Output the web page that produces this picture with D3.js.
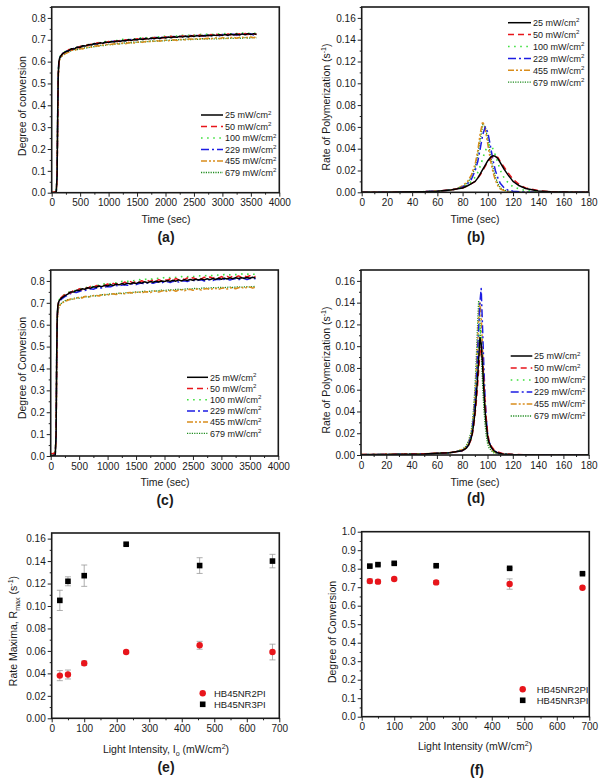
<!DOCTYPE html>
<html><head><meta charset="utf-8">
<script src="https://cdn.jsdelivr.net/npm/d3@7"></script>
<style>body{margin:0;background:#fff}svg{display:block}text{font-family:Arial,"Liberation Sans",sans-serif}</style>
</head><body><svg id="c" width="604" height="781"></svg>
<script>
// ---------------- DATA ----------------
const intensities = [25, 50, 100, 229, 455, 679];
const seriesLabels = ["25 mW/cm", "50 mW/cm", "100 mW/cm", "229 mW/cm", "455 mW/cm", "679 mW/cm"];

// time (sec) for conversion curves (a) and (c)
const timeConv = [0,40,80,95,105,115,125,135,150,175,200,250,
 300,350,400,450,500,550,600,650,700,750,800,850,900,950,1000,1050,1100,1150,1200,1250,
 1300,1350,1400,1450,1500,1550,1600,1650,1700,1750,1800,1850,1900,1950,2000,2050,2100,2150,2200,2250,
 2300,2350,2400,2450,2500,2550,2600,2650,2700,2750,2800,2850,2900,2950,3000,3050,3100,3150,3200,3250,
 3300,3350,3400,3450,3500,3550,3600];

// (a) degree of conversion, HB45NR2PI
const convA_25 = [0,0,0.003,0.08,0.35,0.54,0.595,0.612,0.622,0.632,0.638,0.646,
 .650,.659,.658,.667,.665,.673,.672,.678,.676,.683,.680,.686,.684,.690,.687,.692,.690,.695,.692,.697,
 .695,.700,.697,.702,.699,.704,.701,.706,.703,.708,.705,.709,.706,.711,.708,.713,.709,.714,.711,.716,
 .712,.717,.713,.718,.715,.719,.716,.720,.717,.721,.718,.722,.719,.723,.720,.724,.721,.725,.722,.726,
 .722,.727,.723,.728,.724,.728,.724];
const convA_50 = [0,0.002,0.004,0.07,0.33,0.53,0.59,0.61,0.62,0.63,0.637,0.647,
 .655,.654,.663,.662,.670,.668,.676,.674,.681,.679,.686,.683,.689,.686,.692,.689,.695,.691,.697,.694,
 .700,.696,.703,.699,.705,.701,.707,.703,.709,.705,.711,.707,.712,.708,.714,.710,.716,.711,.717,.713,
 .718,.714,.720,.715,.721,.716,.722,.717,.723,.718,.724,.719,.725,.720,.726,.721,.727,.722,.728,.723,
 .728,.723,.729,.724,.729,.725,.727];
const convA_100 = [0,0,0.002,0.09,0.37,0.55,0.60,0.615,0.625,0.634,0.640,0.648,
 .653,.660,.662,.664,.671,.670,.673,.680,.679,.681,.688,.686,.687,.693,.691,.692,.698,.696,.697,.702,
 .700,.701,.706,.704,.705,.709,.707,.708,.712,.710,.711,.714,.712,.713,.717,.715,.716,.719,.717,.718,
 .721,.719,.720,.723,.721,.722,.725,.723,.724,.727,.724,.725,.728,.726,.726,.729,.727,.727,.730,.728,
 .728,.731,.729,.729,.732,.730,.729];
const convA_229 = [0.002,0,0.003,0.08,0.36,0.545,0.598,0.613,0.623,0.633,0.639,0.646,
 .651,.656,.662,.663,.668,.673,.672,.677,.680,.679,.684,.687,.685,.690,.689,.691,.694,.692,.696,.697,
 .696,.700,.701,.699,.704,.705,.702,.707,.708,.705,.710,.710,.707,.712,.713,.709,.714,.715,.711,.716,
 .717,.713,.718,.719,.714,.720,.720,.716,.721,.722,.717,.723,.723,.718,.724,.724,.719,.725,.725,.720,
 .726,.726,.721,.727,.727,.722,.725];
const convA_455 = [0.005,0.003,0.004,0.07,0.32,0.52,0.585,0.605,0.615,0.625,0.630,0.638,
 .644,.652,.651,.657,.660,.658,.665,.667,.666,.671,.673,.671,.676,.678,.676,.680,.682,.679,.683,.685,
 .682,.686,.688,.685,.689,.691,.688,.692,.693,.690,.694,.696,.693,.697,.698,.695,.699,.700,.697,.701,
 .702,.699,.703,.704,.701,.705,.706,.702,.706,.707,.704,.708,.709,.705,.709,.710,.706,.710,.711,.707,
 .711,.712,.708,.712,.713,.709,.713];
const convA_679 = [0.003,0.001,0.002,0.08,0.34,0.53,0.588,0.606,0.616,0.624,0.629,0.637,
 .647,.650,.655,.655,.658,.663,.662,.664,.669,.668,.670,.674,.673,.675,.679,.677,.679,.683,.681,.683,
 .687,.685,.686,.690,.688,.689,.693,.691,.692,.695,.693,.694,.697,.695,.696,.699,.697,.698,.701,.699,
 .700,.703,.701,.701,.704,.702,.702,.705,.703,.703,.706,.704,.704,.707,.705,.705,.708,.706,.706,.709,
 .707,.707,.710,.708,.708,.711,.709];

// (c) degree of conversion, HB45NR3PI
const convC_25 = [0.002,0.001,0.004,0.10,0.45,0.64,0.685,0.70,0.71,0.718,0.724,0.733,
 .740,.750,.749,.757,.756,.764,.762,.769,.767,.773,.771,.777,.774,.780,.777,.783,.779,.786,.782,.788,
 .784,.790,.786,.792,.788,.794,.790,.796,.792,.797,.794,.799,.795,.800,.797,.802,.798,.803,.799,.805,
 .800,.806,.802,.807,.803,.808,.804,.809,.805,.810,.806,.811,.807,.812,.808,.813,.809,.814,.810,.815,
 .811,.815,.812,.816,.812,.817,.813];
const convC_50 = [0.012,0.010,0.014,0.09,0.42,0.63,0.68,0.698,0.712,0.722,0.728,0.738,
 .748,.745,.757,.754,.764,.760,.770,.766,.775,.771,.779,.775,.783,.778,.786,.781,.789,.784,.792,.787,
 .795,.789,.797,.791,.799,.793,.801,.795,.803,.797,.805,.799,.806,.800,.808,.802,.810,.803,.811,.805,
 .812,.806,.814,.807,.815,.808,.816,.809,.817,.811,.818,.812,.819,.813,.820,.814,.821,.815,.822,.816,
 .823,.817,.823,.818,.824,.818,.820];
const convC_100 = [0.008,0.006,0.010,0.11,0.46,0.645,0.688,0.703,0.714,0.723,0.730,0.739,
 .745,.753,.755,.757,.764,.765,.767,.773,.773,.775,.781,.780,.782,.787,.786,.788,.793,.791,.793,.798,
 .796,.798,.802,.801,.802,.806,.804,.806,.810,.808,.809,.813,.811,.812,.816,.814,.815,.818,.816,.817,
 .820,.818,.819,.822,.820,.821,.824,.822,.823,.826,.824,.825,.828,.826,.826,.829,.827,.828,.831,.829,
 .829,.832,.830,.830,.833,.831,.830];
const convC_229 = [0.003,0.002,0.005,0.10,0.44,0.635,0.682,0.695,0.705,0.713,0.719,0.728,
 .735,.742,.748,.747,.752,.757,.756,.761,.764,.762,.767,.770,.768,.772,.775,.773,.777,.779,.776,.781,
 .783,.780,.785,.787,.783,.788,.790,.786,.791,.792,.789,.794,.795,.791,.796,.797,.793,.798,.799,.795,
 .800,.801,.797,.802,.803,.799,.804,.805,.800,.805,.806,.802,.807,.808,.803,.808,.809,.804,.809,.810,
 .805,.810,.811,.806,.811,.812,.810];
const convC_455 = [0.010,0.012,0.015,0.08,0.40,0.61,0.655,0.672,0.684,0.693,0.699,0.706,
 .712,.718,.716,.723,.724,.722,.729,.730,.727,.733,.734,.731,.737,.738,.735,.740,.741,.738,.743,.744,
 .741,.746,.747,.743,.748,.749,.745,.750,.751,.747,.752,.754,.749,.754,.756,.751,.756,.758,.753,.758,
 .760,.755,.760,.762,.757,.762,.763,.758,.763,.765,.760,.765,.766,.761,.766,.768,.763,.768,.769,.764,
 .769,.771,.766,.771,.772,.767,.772];
const convC_679 = [0.006,0.005,0.008,0.09,0.41,0.615,0.66,0.675,0.686,0.695,0.701,0.709,
 .715,.714,.720,.722,.721,.726,.728,.726,.731,.733,.731,.735,.737,.735,.739,.741,.739,.742,.744,.742,
 .745,.747,.745,.748,.750,.748,.751,.753,.751,.754,.755,.753,.756,.758,.756,.758,.760,.758,.761,.762,
 .760,.763,.764,.762,.765,.766,.764,.767,.768,.766,.768,.770,.768,.770,.771,.769,.771,.772,.770,.772,
 .773,.771,.773,.774,.772,.774,.775];

// (b) rate of polymerization, HB45NR2PI
const timeRateB = [0,10,20,30,40,50,60,70,75,80,84,87,90,92,94,96,98,100,102,104,106,108,110,113,116,120,125,130,140,150,160,170,180];
const rateB_25 = [0,0,0,0.0002,0.0004,0.0006,0.001,0.002,0.003,0.004,0.006,0.008,0.010,0.013,0.017,0.021,0.025,0.029,0.032,0.0335,0.033,0.031,0.027,0.021,0.016,0.010,0.006,0.0035,0.0012,0.0005,0.0002,0.0001,0];
const rateB_50 = [0,0,0,0.0002,0.0004,0.0006,0.001,0.002,0.003,0.004,0.006,0.008,0.010,0.013,0.016,0.020,0.024,0.028,0.031,0.033,0.033,0.032,0.028,0.023,0.018,0.012,0.007,0.004,0.0015,0.0006,0.0002,0.0001,0];
const rateB_100 = [0,0,0,0.0002,0.0004,0.0006,0.001,0.002,0.003,0.005,0.007,0.010,0.014,0.018,0.024,0.031,0.038,0.043,0.044,0.040,0.034,0.027,0.020,0.013,0.009,0.005,0.003,0.0015,0.0006,0.0003,0.0001,0,0];
const rateB_229 = [0,0,0,0.0002,0.0004,0.0006,0.001,0.002,0.003,0.005,0.008,0.012,0.020,0.028,0.040,0.053,0.060,0.055,0.043,0.030,0.020,0.013,0.008,0.004,0.002,0.001,0.0005,0.0002,0.0001,0,0,0,0];
const rateB_455 = [0,0,0,0.0002,0.0004,0.0006,0.001,0.002,0.003,0.006,0.010,0.016,0.026,0.038,0.054,0.065,0.058,0.044,0.030,0.019,0.011,0.006,0.003,0.0015,0.0007,0.0003,0.0001,0,0,0,0,0,0];
const rateB_679 = [0,0,0,0.0002,0.0004,0.0006,0.001,0.002,0.003,0.005,0.009,0.014,0.023,0.034,0.048,0.062,0.060,0.049,0.035,0.023,0.014,0.008,0.004,0.002,0.001,0.0004,0.0001,0,0,0,0,0,0];

// (d) rate of polymerization, HB45NR3PI
const timeRateD = [0,10,20,30,40,50,60,70,75,80,83,85,87,88,89,90,91,92,93,94,95,96,97,98,99,100,101,103,105,108,112,120,130,140,160,180];
const rateD_25 = [0.0003,0.0004,0.0005,0.0006,0.0008,0.001,0.0015,0.002,0.003,0.004,0.006,0.009,0.015,0.020,0.028,0.038,0.052,0.068,0.088,0.108,0.102,0.085,0.062,0.042,0.028,0.018,0.012,0.007,0.004,0.002,0.001,0.0004,0.0002,0.0001,0,0];
const rateD_50 = [0.0004,0.0005,0.0006,0.0007,0.0009,0.0011,0.0016,0.0022,0.003,0.004,0.006,0.009,0.014,0.019,0.026,0.035,0.047,0.061,0.078,0.093,0.100,0.090,0.070,0.050,0.034,0.022,0.014,0.008,0.005,0.003,0.0013,0.0005,0.0002,0.0001,0,0];
const rateD_100 = [0.0003,0.0004,0.0005,0.0006,0.0008,0.001,0.0015,0.002,0.003,0.004,0.006,0.010,0.016,0.022,0.031,0.042,0.058,0.076,0.098,0.120,0.108,0.088,0.064,0.043,0.028,0.017,0.011,0.006,0.003,0.0015,0.0007,0.0003,0.0001,0,0,0];
const rateD_229 = [0.0003,0.0004,0.0005,0.0006,0.0008,0.001,0.0015,0.002,0.003,0.004,0.006,0.010,0.017,0.024,0.034,0.047,0.065,0.088,0.115,0.140,0.153,0.120,0.085,0.055,0.034,0.021,0.013,0.007,0.004,0.002,0.001,0.0004,0.0002,0.0001,0,0];
const rateD_455 = [0.0004,0.0005,0.0006,0.0007,0.0009,0.0011,0.0016,0.0022,0.003,0.005,0.007,0.011,0.018,0.026,0.037,0.052,0.072,0.098,0.125,0.140,0.128,0.100,0.070,0.045,0.029,0.018,0.011,0.006,0.003,0.0015,0.0007,0.0003,0.0001,0,0,0];
const rateD_679 = [0.0003,0.0004,0.0005,0.0006,0.0008,0.001,0.0015,0.002,0.003,0.005,0.008,0.013,0.021,0.030,0.043,0.060,0.085,0.115,0.142,0.125,0.095,0.068,0.045,0.029,0.018,0.011,0.007,0.004,0.002,0.001,0.0005,0.0002,0.0001,0,0,0];

// (e) rate maxima vs light intensity
const rmax2PI = [0.038, 0.039, 0.049, 0.059, 0.065, 0.059];
const rmax2PIerr = [0.0045, 0.004, 0.002, 0.001, 0.0035, 0.007];
const rmax3PI = [0.105, 0.122, 0.127, 0.155, 0.136, 0.140];
const rmax3PIerr = [0.009, 0.004, 0.0095, 0.001, 0.007, 0.006];

// (f) final degree of conversion vs light intensity
const doc2PI = [0.733, 0.730, 0.744, 0.726, 0.717, 0.697];
const doc2PIerr = [0.012, 0.010, 0.005, 0.010, 0.028, 0.005];
const doc3PI = [0.814, 0.822, 0.829, 0.816, 0.802, 0.773];
const doc3PIerr = [0.005, 0.004, 0.005, 0.004, 0.004, 0.004];

// tick labels
const ticksTime4000 = [0,500,1000,1500,2000,2500,3000,3500,4000];
const ticksTime180 = [0,20,40,60,80,100,120,140,160,180];
const ticksConv = [0,0.1,0.2,0.3,0.4,0.5,0.6,0.7,0.8];
const ticksRate = [0,0.02,0.04,0.06,0.08,0.10,0.12,0.14,0.16];
const ticksIntensity = [0,100,200,300,400,500,600,700];
const ticksConvF = [0,0.1,0.2,0.3,0.4,0.5,0.6,0.7,0.8,0.9,1.0];

const legendNames = ["HB45NR2PI", "HB45NR3PI"];

// ---------------- STYLE ----------------
const lineStyles = [
  {color:"#000000", dash:null, w:1.5},
  {color:"#e8151b", dash:"6,4", w:1.5},
  {color:"#3fe03f", dash:"1.6,4.5", w:1.6},
  {color:"#1d1de3", dash:"8,3,2,3", w:1.5},
  {color:"#d98d1c", dash:"6,2,2,2,2,2", w:1.5},
  {color:"#1e8c1e", dash:"1.2,1.2", w:1.3}
];
const FONT = 'Arial, "Liberation Sans", sans-serif';
const svg = d3.select("#c");

function richText(g, x, y, parts, size, opts = {}) {
  const t = g.append("text").attr("font-size", size).attr("fill", "#1a1a1a")
    .attr("text-anchor", opts.anchor || "start");
  if (opts.rotate) t.attr("transform", `translate(${x},${y}) rotate(-90)`);
  else t.attr("x", x).attr("y", y);
  if (opts.bold) t.attr("font-weight", "bold");
  let shift = 0;
  parts.forEach(p => {
    const s = t.append("tspan").text(p.t);
    let target = 0;
    if (p.sup) { s.attr("font-size", size * 0.68); target = -size * 0.42; }
    else if (p.sub) { s.attr("font-size", size * 0.68); target = size * 0.28; }
    const dy = target - shift;
    if (dy !== 0) s.attr("dy", dy);
    shift = target;
  });
  return t;
}

let clipId = 0;
function panel(cfg) {
  const g = svg.append("g");
  const x = d3.scaleLinear().domain(cfg.xDomain).range([cfg.l, cfg.r]);
  const y = d3.scaleLinear().domain(cfg.yDomain).range([cfg.b, cfg.t]);

  // axes
  const fx = cfg.xFmt || d3.format("d");
  const xa = g.append("g").attr("transform", `translate(0,${cfg.b})`)
    .call(d3.axisBottom(x).tickValues(cfg.xTicks).tickSize(4).tickPadding(2.5).tickFormat(fx));
  g.append("g").attr("transform", `translate(0,${cfg.b})`)
    .call(d3.axisBottom(x).tickValues(cfg.xMinor).tickSize(2).tickFormat(""));
  const ya = g.append("g").attr("transform", `translate(${cfg.l},0)`)
    .call(d3.axisLeft(y).tickValues(cfg.yTicks).tickSize(4).tickPadding(2).tickFormat(cfg.yFmt));
  g.append("g").attr("transform", `translate(${cfg.l},0)`)
    .call(d3.axisLeft(y).tickValues(cfg.yMinor).tickSize(2).tickFormat(""));
  g.selectAll(".domain").remove();
  g.selectAll(".tick line").attr("stroke", "#222").attr("stroke-width", 1);
  g.selectAll(".tick text").attr("font-size", 10).attr("font-family", FONT).attr("fill", "#1a1a1a");

  // clip
  const id = "clip" + (clipId++);
  svg.append("clipPath").attr("id", id).append("rect")
    .attr("x", cfg.l).attr("y", cfg.t).attr("width", cfg.r - cfg.l).attr("height", cfg.b - cfg.t);
  const plot = g.append("g").attr("clip-path", `url(#${id})`);

  if (cfg.lines) {
    const line = d3.line().x(d => x(d[0])).y(d => y(d[1]));
    // draw in reverse so black is on top
    cfg.lines.map((vals, i) => ({vals, i})).reverse().forEach(({vals, i}) => {
      const pts = vals.map((v, k) => [cfg.time[k], v]).filter(p => p[0] !== undefined);
      const st = lineStyles[i];
      plot.append("path").attr("d", line(pts)).attr("fill", "none")
        .attr("stroke", st.color).attr("stroke-width", st.w)
        .attr("stroke-dasharray", st.dash).attr("stroke-linejoin", "round");
    });
    // legend
    const L = cfg.legend;
    seriesLabels.forEach((name, i) => {
      const st = lineStyles[i];
      const yy = L.y0 + i * L.dy;
      g.append("line").attr("x1", L.x1).attr("x2", L.x2).attr("y1", yy).attr("y2", yy)
        .attr("stroke", st.color).attr("stroke-width", st.w).attr("stroke-dasharray", st.dash);
      richText(g, L.tx, yy + 3.3, [{t:name},{t:"2",sup:true}], 9);
    });
  }

  if (cfg.scatter) {
    const S = cfg.scatter;
    const groups = [
      {v:S.red, e:S.redErr, shape:"circle", color:"#e8151b"},
      {v:S.black, e:S.blackErr, shape:"square", color:"#000"}
    ];
    groups.forEach(gr => {
      intensities.forEach((xi, k) => {
        const cx = x(xi), v = gr.v[k], e = gr.e[k];
        const y1 = y(v - e), y2 = y(v + e);
        g.append("line").attr("x1", cx).attr("x2", cx).attr("y1", y1).attr("y2", y2)
          .attr("stroke", "#999").attr("stroke-width", 0.8);
        [y1, y2].forEach(yy => g.append("line").attr("x1", cx - 3).attr("x2", cx + 3)
          .attr("y1", yy).attr("y2", yy).attr("stroke", "#999").attr("stroke-width", 0.8));
      });
    });
    groups.forEach(gr => {
      intensities.forEach((xi, k) => {
        const cx = x(xi), cy = y(gr.v[k]);
        if (gr.shape === "circle") g.append("circle").attr("cx", cx).attr("cy", cy).attr("r", 3.2).attr("fill", gr.color);
        else g.append("rect").attr("x", cx - 2.8).attr("y", cy - 2.8).attr("width", 5.6).attr("height", 5.6).attr("fill", gr.color);
      });
    });
    const L = cfg.legend;
    g.append("circle").attr("cx", L.mx).attr("cy", L.y1).attr("r", 3.2).attr("fill", "#e8151b");
    g.append("rect").attr("x", L.mx - 2.8).attr("y", L.y2 - 2.8).attr("width", 5.6).attr("height", 5.6).attr("fill", "#000");
    richText(g, L.tx, L.y1 + 3.3, [{t:legendNames[0]}], 9.5);
    richText(g, L.tx, L.y2 + 3.3, [{t:legendNames[1]}], 9.5);
  }

  // frame
  g.append("rect").attr("x", cfg.l).attr("y", cfg.t).attr("width", cfg.r - cfg.l).attr("height", cfg.b - cfg.t)
    .attr("fill", "none").attr("stroke", "#1a1a1a").attr("stroke-width", 1.6);

  // titles
  richText(g, cfg.xtX, cfg.xtY, cfg.xTitle, 10.5, {anchor:"middle"});
  richText(g, cfg.ytX, cfg.ytY, cfg.yTitle, 10.5, {anchor:"middle", rotate:true});
  richText(g, cfg.letX, cfg.letY, [{t:cfg.letter}], 14, {anchor:"middle", bold:true});
}

const minorRange = (a, b, s) => d3.range(a, b + s / 2, s).map(v => +v.toFixed(4));
const timeTitle = [{t:"Time (sec)"}];
const rateTitle = [{t:"Rate of Polymerization (s"},{t:"-1",sup:true},{t:")"}];

// (a)
panel({l:51.7, r:279.3, t:7, b:192.7, xDomain:[0,4000], yDomain:[0,0.85],
  xTicks:ticksTime4000, xMinor:minorRange(250,3750,500), yTicks:ticksConv, yMinor:minorRange(0.05,0.85,0.1),
  yFmt:d3.format(".1f"), time:timeConv,
  lines:[convA_25, convA_50, convA_100, convA_229, convA_455, convA_679],
  legend:{x1:201, x2:223, tx:225, y0:115, dy:11.5},
  xTitle:timeTitle, xtX:166, xtY:223, yTitle:[{t:"Degree of conversion"}], ytX:26, ytY:106,
  letter:"(a)", letX:166, letY:242});

// (b)
panel({l:361.7, r:588.7, t:7, b:192.3, xDomain:[0,180], yDomain:[0,0.17],
  xTicks:ticksTime180, xMinor:minorRange(10,170,20), yTicks:ticksRate, yMinor:minorRange(0.01,0.17,0.02),
  yFmt:d3.format(".2f"), time:timeRateB,
  lines:[rateB_25, rateB_50, rateB_100, rateB_229, rateB_455, rateB_679],
  legend:{x1:508, x2:531, tx:533, y0:22.7, dy:11.9},
  xTitle:timeTitle, xtX:475, xtY:223, yTitle:rateTitle, ytX:330, ytY:107,
  letter:"(b)", letX:476, letY:242});

// (c)
panel({l:50.7, r:278.3, t:270, b:456, xDomain:[0,4000], yDomain:[0,0.85],
  xTicks:ticksTime4000, xMinor:minorRange(250,3750,500), yTicks:ticksConv, yMinor:minorRange(0.05,0.85,0.1),
  yFmt:d3.format(".1f"), time:timeConv,
  lines:[convC_25, convC_50, convC_100, convC_229, convC_455, convC_679],
  legend:{x1:187, x2:208, tx:210, y0:377.3, dy:11.2},
  xTitle:timeTitle, xtX:165, xtY:485.5, yTitle:[{t:"Degree of Conversion"}], ytX:26, ytY:368,
  letter:"(c)", letX:165, letY:505});

// (d)
panel({l:361, r:588.7, t:270, b:455, xDomain:[0,180], yDomain:[0,0.17],
  xTicks:ticksTime180, xMinor:minorRange(10,170,20), yTicks:ticksRate, yMinor:minorRange(0.01,0.17,0.02),
  yFmt:d3.format(".2f"), time:timeRateD,
  lines:[rateD_25, rateD_50, rateD_100, rateD_229, rateD_455, rateD_679],
  legend:{x1:510.7, x2:532.3, tx:534, y0:356, dy:12},
  xTitle:timeTitle, xtX:475, xtY:485.5, yTitle:rateTitle, ytX:330, ytY:370,
  letter:"(d)", letX:476, letY:503});

// (e)
panel({l:51.7, r:279.3, t:533, b:718.3, xDomain:[0,700], yDomain:[0,0.165],
  xTicks:ticksIntensity, xMinor:minorRange(50,650,100), yTicks:ticksRate, yMinor:minorRange(0.01,0.15,0.02),
  yFmt:d3.format(".2f"),
  scatter:{red:rmax2PI, redErr:rmax2PIerr, black:rmax3PI, blackErr:rmax3PIerr},
  legend:{mx:202.7, y1:693.3, y2:704.3, tx:214},
  xTitle:[{t:"Light Intensity, I"},{t:"o",sub:true},{t:" (mW/cm"},{t:"2",sup:true},{t:")"}], xtX:166, xtY:753,
  yTitle:[{t:"Rate Maxima, R"},{t:"max",sub:true},{t:" (s"},{t:"-1",sup:true},{t:")"}], ytX:17, ytY:631,
  letter:"(e)", letX:166, letY:772});

// (f)
panel({l:361.7, r:589.3, t:531.7, b:716.7, xDomain:[0,700], yDomain:[0,1.0],
  xTicks:ticksIntensity, xMinor:minorRange(50,650,100), yTicks:ticksConvF, yMinor:minorRange(0.05,0.95,0.1),
  yFmt:d3.format(".1f"),
  scatter:{red:doc2PI, redErr:doc2PIerr, black:doc3PI, blackErr:doc3PIerr},
  legend:{mx:522.7, y1:689.3, y2:700.3, tx:536.7},
  xTitle:[{t:"Light Intensity (mW/cm"},{t:"2",sup:true},{t:")"}], xtX:475, xtY:750,
  yTitle:[{t:"Degree of Conversion"}], ytX:336, ytY:632,
  letter:"(f)", letX:477, letY:775});
</script></body></html>
